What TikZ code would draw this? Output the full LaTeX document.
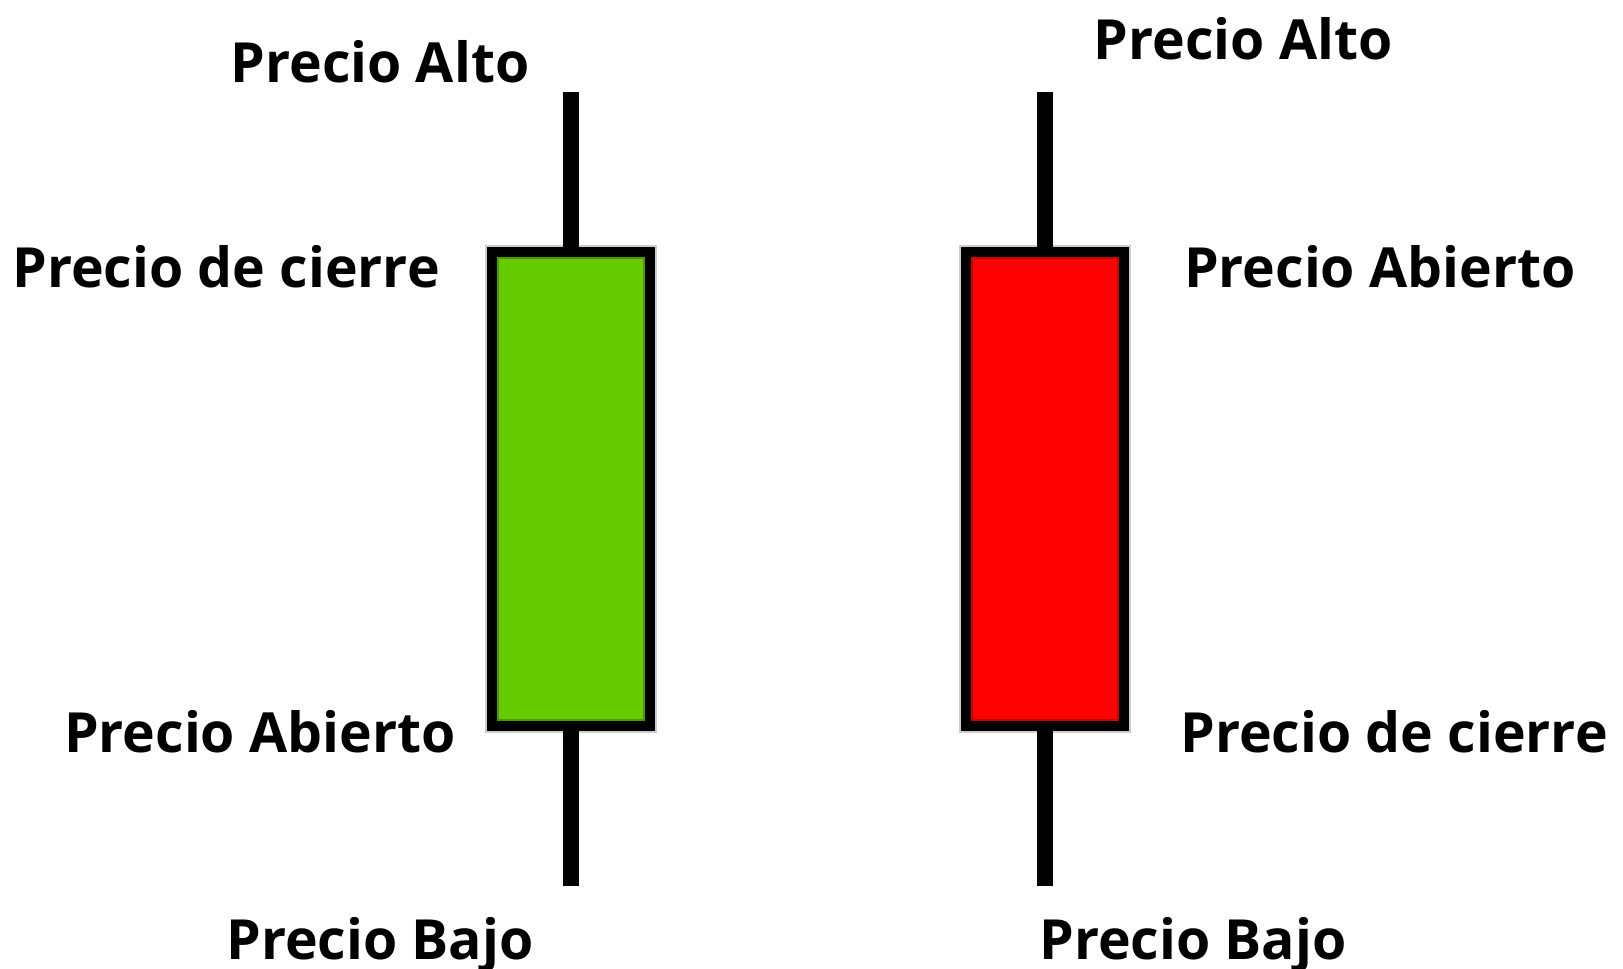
\documentclass[tikz,border=0pt]{standalone}
\usepackage{fontspec}
\setmainfont{Open Sans}
\usetikzlibrary{positioning}

\definecolor{verde}{HTML}{66CC00}
\definecolor{verdeosc}{HTML}{4C9900}
\definecolor{rojo}{HTML}{FF0000}
\definecolor{rojoosc}{HTML}{CC0000}

\tikzset{
  vela/.style={draw=black, line width=0.2cm, minimum width=3.16cm, minimum height=9.48cm, inner sep=0pt},
  mecha/.style={line width=0.32cm, black},
  etiqueta/.style={font=\fontsize{31.5}{34}\selectfont\bfseries, inner sep=0pt, anchor=base}
}

\begin{document}
\begin{tikzpicture}[x=0.02cm, y=-0.02cm]
\useasboundingbox (0,0) rectangle (1623,969);

% Vela verde (alcista)
\fill[gray!40] (485,245) rectangle (657,733);
\node[vela, fill=verde] (verde) at (571,489) {};
\draw[verdeosc, line width=0.04cm] (498,258) rectangle (644,720);
\coordinate (altoV) at (571,92);
\coordinate (bajoV) at (571,886);
\draw[mecha] (verde.north) -- (altoV);
\draw[mecha] (verde.south) -- (bajoV);

% Vela roja (bajista)
\fill[gray!40] (959,245) rectangle (1131,733);
\node[vela, fill=rojo] (roja) at (1045,489) {};
\draw[rojoosc, line width=0.04cm] (972,258) rectangle (1118,720);
\coordinate (altoR) at (1045,92);
\coordinate (bajoR) at (1045,886);
\draw[mecha] (roja.north) -- (altoR);
\draw[mecha] (roja.south) -- (bajoR);

% Etiquetas izquierda
\node[etiqueta] (altoVtxt) at (380,83) {Precio Alto};
\node[etiqueta] (cierreV) at (226,288) {Precio de cierre};
\node[etiqueta] (abiertoV) at (260,752) {Precio Abierto};
\node[etiqueta] (bajoVtxt) at (380,959) {Precio Bajo};

% Etiquetas derecha
\node[etiqueta] (altoRtxt) at (1243,60) {Precio Alto};
\node[etiqueta] (abiertoR) at (1380,288) {Precio Abierto};
\node[etiqueta] (cierreR) at (1394,752) {Precio de cierre};
\node[etiqueta] (bajoRtxt) at (1193,959) {Precio Bajo};
\end{tikzpicture}
\end{document}
